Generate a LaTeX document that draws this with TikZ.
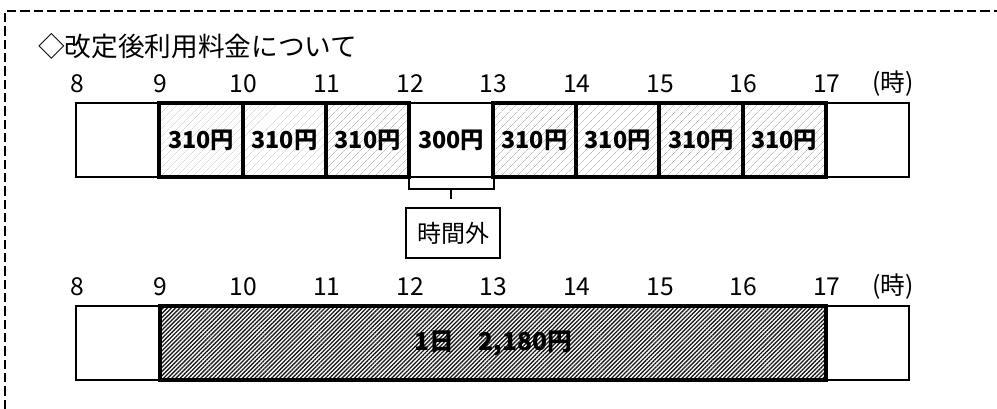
\documentclass[tikz,border=0pt]{standalone}
\usepackage{fontspec}
\setmainfont{Noto Sans CJK JP}
\usetikzlibrary{patterns.meta}

\begin{document}
\begin{tikzpicture}[x=0.75pt,y=-0.75pt]
  \tikzstyle{frame} = [line width=1.2pt, dash pattern=on 7pt off 3pt]
  \tikzstyle{cell} = [draw, line width=1.5pt, inner sep=0pt, minimum width=62.5pt, minimum height=55.5pt, font=\fontsize{17.5}{20}\selectfont\bfseries]
  \tikzstyle{paid} = [cell, line width=3pt, pattern={Lines[angle=45,distance=4pt,line width=0.35pt]}, pattern color=black!25]
  \tikzstyle{daily} = [cell, line width=3pt, minimum width=499.5pt, pattern={Lines[angle=45,distance=2.2pt,line width=1pt]}, pattern color=black!90, font=\fontsize{18.5}{21}\selectfont\bfseries]
  \tikzstyle{hour} = [font=\fontsize{18.5}{21}\selectfont]
  \tikzstyle{bracket} = [line width=1.5pt]
  \useasboundingbox (0,0) rectangle (997,409);
  \draw[frame] (5,409) -- (5,11) -- (997,11);
  \node[anchor=west, inner sep=0pt, font=\fontsize{20}{24}\selectfont] (title) at (38,46) {◇改定後利用料金について};
  % hourly rates
  \foreach \h in {8,...,17}
    \node[hour] (t\h) at ({77+83.33*(\h-8)},84) {\h};
  \node[hour] (tunit) at (893,84) {(時)};
  \node[cell] (c8) at (117.7,140) {};
  \node[cell] (c17) at (867.7,140) {};
  \node[cell] (c12) at (451.3,140) {300円};
  \foreach \h in {9,10,11,13,14,15,16}
    \node[paid] (c\h) at ({117.7+83.33*(\h-8)},140) {310円};
  \draw[bracket] (c12.south west) -- ++(0,11) -| (c12.south east);
  \draw[bracket] (c12.south) ++(0,11) coordinate (brk) -- ++(0,10);
  \node[draw, line width=1.5pt, minimum width=70pt, minimum height=37.5pt, font=\fontsize{18}{21}\selectfont] (extra) at (453,233) {時間外};
  % daily rate
  \foreach \h in {8,...,17}
    \node[hour] (d\h) at ({77+83.33*(\h-8)},287) {\h};
  \node[hour] (dunit) at (893,287) {(時)};
  \node[cell] (b8) at (117.7,343) {};
  \node[cell] (b17) at (867.7,343) {};
  \node[daily] (day) at (493,343) {1日　2,180円};
\end{tikzpicture}
\end{document}
